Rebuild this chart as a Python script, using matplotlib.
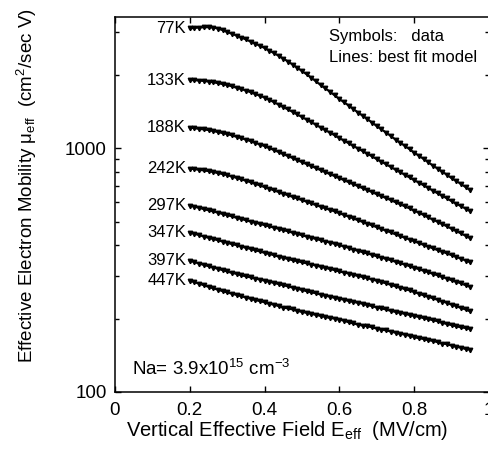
import numpy as np
import matplotlib
matplotlib.use('Agg')
import matplotlib.pyplot as plt
from matplotlib.ticker import FixedLocator, FuncFormatter, LogLocator, NullFormatter

plt.rcParams['font.family'] = ['Liberation Sans', 'DejaVu Sans']

# effective field grid (MV/cm) shared by all temperatures
field = np.linspace(0.2, 0.95, 61)

temps = ['77K', '133K', '188K', '242K', '297K', '347K', '397K', '447K']

# effective electron mobility (cm^2/V s)
mu_77 = [3096, 3112, 3124, 3130, 3131, 3122, 3094, 3048, 2995, 2944, 2893, 2841,
         2790, 2736, 2682, 2628, 2574, 2513, 2453, 2392, 2331, 2266, 2201, 2136,
         2071, 2007, 1943, 1878, 1814, 1758, 1702, 1645, 1589, 1542, 1494, 1447,
         1399, 1357, 1315, 1273, 1231, 1194, 1158, 1121, 1084, 1053, 1021, 990,
         958, 931, 903, 876, 848, 824, 801, 777, 753, 733, 713, 692, 672]
mu_133 = [1902, 1899, 1893, 1885, 1875, 1862, 1847, 1831, 1814, 1792, 1769, 1746,
          1722, 1695, 1667, 1640, 1612, 1578, 1543, 1509, 1474, 1441, 1408, 1374,
          1341, 1309, 1278, 1246, 1214, 1185, 1157, 1128, 1099, 1073, 1047, 1021,
          995, 972, 948, 925, 901, 880, 858, 837, 816, 797, 777, 758,
          739, 722, 704, 687, 669, 653, 638, 622, 606, 592, 578, 565, 551]
mu_188 = [1214, 1207, 1200, 1193, 1186, 1175, 1164, 1153, 1142, 1128, 1113, 1099,
          1084, 1068, 1051, 1035, 1019, 1001, 982, 964, 945, 928, 911, 893,
          876, 860, 844, 828, 812, 797, 782, 768, 753, 739, 725, 712,
          698, 685, 673, 660, 647, 635, 624, 612, 600, 589, 577, 566,
          554, 543, 532, 520, 509, 499, 488, 478, 467, 457, 447, 437, 427]
mu_242 = [824, 820, 815, 810, 805, 798, 790, 783, 775, 765, 755, 745,
          735, 724, 714, 703, 692, 682, 671, 661, 650, 641, 631, 622,
          612, 603, 593, 584, 575, 567, 558, 550, 541, 532, 524, 515,
          506, 498, 490, 482, 474, 466, 458, 451, 443, 436, 429, 422,
          415, 408, 401, 395, 388, 382, 376, 370, 364, 358, 352, 346, 340]
mu_297 = [581, 575, 569, 562, 556, 550, 544, 537, 531, 525, 518, 512,
          506, 500, 494, 489, 483, 478, 472, 467, 461, 456, 450, 445,
          439, 434, 429, 424, 419, 414, 410, 405, 400, 395, 390, 384,
          379, 374, 370, 365, 360, 356, 351, 347, 342, 337, 333, 328,
          323, 319, 314, 310, 305, 301, 296, 292, 287, 283, 279, 274, 270]
mu_347 = [450, 445, 440, 434, 429, 424, 419, 414, 409, 404, 400, 395,
          390, 386, 381, 377, 372, 368, 364, 359, 355, 351, 347, 344,
          340, 337, 333, 330, 326, 323, 319, 316, 312, 309, 306, 302,
          299, 296, 293, 289, 286, 282, 279, 275, 271, 268, 264, 261,
          257, 253, 249, 246, 242, 239, 235, 232, 228, 225, 221, 218, 214]
mu_397 = [345, 341, 336, 332, 328, 324, 320, 316, 312, 308, 305, 301,
          298, 295, 292, 289, 286, 283, 280, 277, 274, 271, 268, 265,
          262, 259, 256, 254, 251, 248, 246, 243, 241, 239, 236, 234,
          232, 230, 227, 225, 222, 220, 218, 215, 213, 211, 209, 207,
          205, 203, 201, 199, 197, 195, 192, 190, 188, 186, 184, 183, 181]
mu_447 = [286, 282, 278, 274, 270, 266, 263, 259, 256, 253, 250, 247,
          244, 241, 238, 236, 233, 230, 228, 225, 222, 220, 218, 215,
          213, 211, 209, 207, 205, 203, 201, 200, 198, 196, 193, 191,
          189, 187, 186, 184, 182, 180, 179, 177, 175, 173, 172, 170,
          168, 166, 165, 163, 162, 160, 158, 157, 155, 153, 152, 150, 149]

series = [mu_77, mu_133, mu_188, mu_242, mu_297, mu_347, mu_397, mu_447]

xticks = [0, 0.2, 0.4, 0.6, 0.8, 1.0]
xtick_labels = ['0', '0.2', '0.4', '0.6', '0.8', '1']

fig = plt.figure(figsize=(4.88, 4.62), dpi=100)
ax = fig.add_axes([115 / 488, 70 / 462, 374 / 488, 375 / 462])

for label, mu in zip(temps, series):
    ax.plot(field, mu, '-', color='k', lw=1.5)
    ax.plot(field, mu, 'v', color='k', ms=3.2, mec='k')
    ax.text(0.19, mu[0], label, ha='right', va='center', fontsize=12)

ax.set_yscale('log')
ax.set_xlim(0, 1.0)
ax.set_ylim(100, 3450)

ax.xaxis.set_major_locator(FixedLocator(xticks))
ax.set_xticklabels(xtick_labels)
ax.yaxis.set_major_locator(FixedLocator([100, 1000]))
ax.yaxis.set_major_formatter(FuncFormatter(lambda v, p: '%d' % v))
ax.yaxis.set_minor_locator(LogLocator(base=10, subs=np.arange(2, 10)))
ax.yaxis.set_minor_formatter(NullFormatter())

ax.tick_params(which='both', direction='in', top=True, right=True, width=1.0)
ax.tick_params(which='major', length=4.5, labelsize=13.5)
ax.tick_params(axis='x', which='major', pad=7)
ax.tick_params(axis='y', which='major', pad=6)
ax.tick_params(which='minor', length=3)
for sp in ax.spines.values():
    sp.set_linewidth(1.1)

ax.text(0.572, 0.949, 'Symbols:   data', transform=ax.transAxes,
        ha='left', va='center', fontsize=12)
ax.text(0.572, 0.893, 'Lines: best fit model', transform=ax.transAxes,
        ha='left', va='center', fontsize=12)
ax.text(0.045, 0.045, r'Na= 3.9x10$^{\mathregular{15}}$ cm$^{\mathregular{-3}}$',
        transform=ax.transAxes, ha='left', va='baseline', fontsize=13.5)

fig.text(27 / 488, 1 - 186 / 462,
         r'Effective Electron Mobility $\mathregular{\mu_{eff}}$  (cm$^{\mathregular{2}}$/sec V)',
         rotation=90, ha='center', va='center', fontsize=13.5)
fig.text(287 / 488, 1 - 431 / 462,
         r'Vertical Effective Field E$_{\mathregular{eff}}$  (MV/cm)',
         ha='center', va='center', fontsize=14.5)

fig.savefig('out.png', dpi=100)
